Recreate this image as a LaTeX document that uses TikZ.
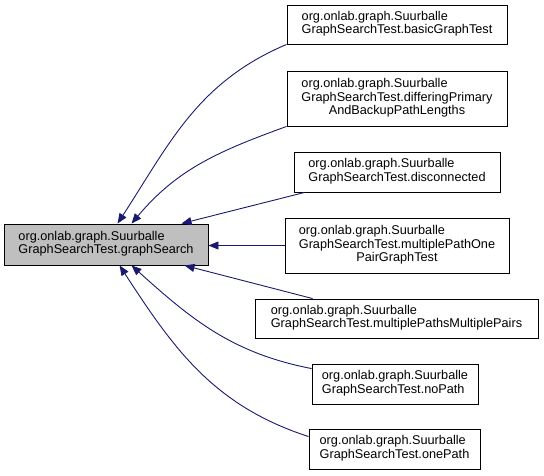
\documentclass[tikz,border=0pt]{standalone}
\usepackage{fontspec}
\setmainfont{Liberation Sans}
\usetikzlibrary{arrows.meta}
\definecolor{edgeblue}{HTML}{191970}
\definecolor{mainfill}{HTML}{BFBFBF}
\tikzset{
  box/.style={draw=black, line width=0.9pt, rectangle, inner sep=0pt, align=center,
    font=\fontsize{12.7}{13.7}\selectfont},
  mainbox/.style={box, fill=mainfill},
  edge/.style={draw=edgeblue, line width=0.9pt,
    -{Triangle[length=10pt,width=8pt]}},
}
\newcommand{\lbl}[2]{\begin{tabular}{@{}l@{}}#1\\#2\end{tabular}}
\newcommand{\lblthree}[3]{\begin{tabular}{@{}l@{}}#1\\#2\\\multicolumn{1}{@{}c@{}}{#3}\end{tabular}}
\renewcommand{\arraystretch}{0.98}
\begin{document}
\begin{tikzpicture}[x=1pt,y=1pt]
\useasboundingbox (0,0) rectangle (544,475);
\node[mainbox, minimum width=204pt, minimum height=41pt] (main) at (106,230.5)
  {\lbl{org.onlab.graph.Suurballe}{GraphSearchTest.graphSearch}};
\node[box, minimum width=220pt, minimum height=39pt] (n1) at (397,450.5)
  {\lbl{org.onlab.graph.Suurballe}{GraphSearchTest.basicGraphTest}};
\node[box, minimum width=220pt, minimum height=55pt] (n2) at (397,376.5)
  {\lblthree{org.onlab.graph.Suurballe}{GraphSearchTest.differingPrimary}{AndBackupPathLengths}};
\node[box, minimum width=206pt, minimum height=40pt] (n3) at (397,303)
  {\lbl{org.onlab.graph.Suurballe}{GraphSearchTest.disconnected}};
\node[box, minimum width=224pt, minimum height=55pt] (n4) at (397,229.5)
  {\lblthree{org.onlab.graph.Suurballe}{GraphSearchTest.multiplePathOne}{PairGraphTest}};
\node[box, minimum width=283pt, minimum height=39pt] (n5) at (396.5,156.5)
  {\lbl{org.onlab.graph.Suurballe}{GraphSearchTest.multiplePathsMultiplePairs}};
\node[box, minimum width=166pt, minimum height=40pt] (n6) at (395,91)
  {\lbl{org.onlab.graph.Suurballe}{GraphSearchTest.noPath}};
\node[box, minimum width=171pt, minimum height=40pt] (n7) at (394.5,26)
  {\lbl{org.onlab.graph.Suurballe}{GraphSearchTest.onePath}};

\draw[edge] (n1.south west) to[out=203,in=57] ([xshift=114pt]main.north west);
\draw[edge] (n2.south west) to[out=200,in=50] ([xshift=128pt]main.north west);
\draw[edge] ([xshift=11pt]n3.south west) -- ([xshift=178pt]main.north west);
\draw[edge] (n4.west) -- (n4.west -| main.east);
\draw[edge] ([xshift=58pt]n5.north west) -- ([xshift=181pt]main.south west);
\draw[edge] ([yshift=-5pt]n6.north west) to[out=169,in=-42] ([xshift=128pt]main.south west);
\draw[edge] ([yshift=-8pt]n7.north west) to[out=162,in=-57] ([xshift=116pt]main.south west);
\end{tikzpicture}
\end{document}
